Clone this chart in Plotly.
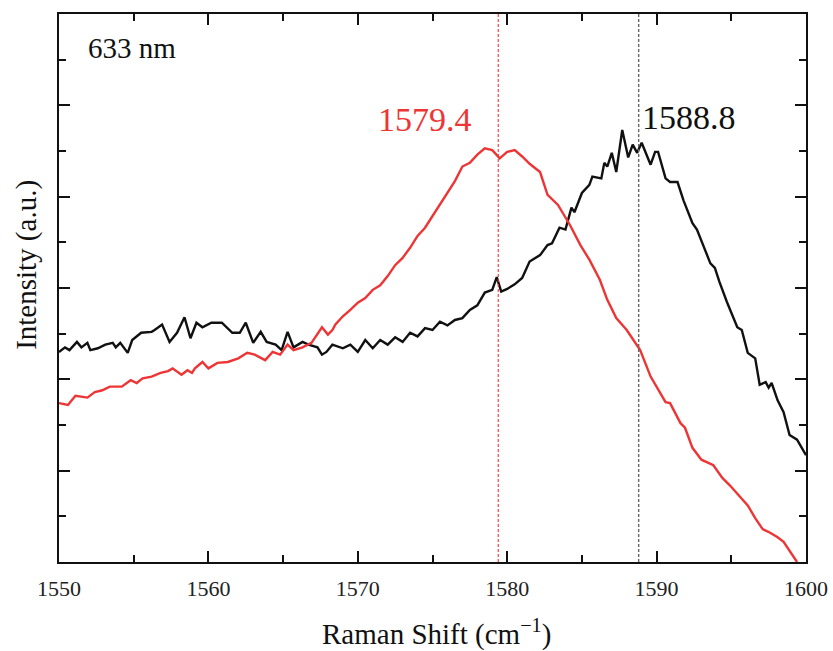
import plotly.graph_objects as go

red_x = [1550.0, 1550.6, 1551.1, 1551.9, 1552.4, 1552.9, 1553.4, 1554.2, 1554.8, 1555.2, 1555.6,
         1556.2, 1556.8, 1557.3, 1557.6, 1558.2, 1558.6, 1558.9, 1559.1, 1559.6, 1560.0, 1560.6,
         1561.3, 1562.0, 1562.6, 1563.1, 1563.8, 1564.3, 1564.8, 1565.3, 1565.7, 1566.3, 1566.9,
         1567.6, 1568.0, 1568.3, 1568.5, 1569.0, 1569.5, 1570.0, 1570.5, 1571.0, 1571.5, 1572.0,
         1572.5, 1573.0, 1573.5, 1574.0, 1574.5, 1575.0, 1575.5, 1576.0, 1576.5, 1577.0, 1577.5,
         1578.0, 1578.5, 1579.0, 1579.5, 1580.0, 1580.5, 1581.0, 1581.5, 1582.2, 1582.7, 1583.4,
         1584.2, 1584.9, 1585.5, 1586.2, 1586.7, 1587.3, 1588.0, 1588.9, 1589.6, 1590.6, 1590.9,
         1591.6, 1591.9, 1592.4, 1593.0, 1593.8, 1594.4, 1594.9, 1595.6, 1596.1, 1596.6, 1597.1,
         1597.6, 1598.1, 1598.5, 1598.8, 1599.4]
red_y = [174, 172, 182, 180, 186, 188, 192, 192, 199, 196, 201,
         203, 207, 209, 212, 205, 210, 207, 212, 219, 212, 218,
         219, 223, 229, 227, 221, 230, 227, 238, 232, 235, 240,
         257, 249, 254, 260, 269, 276, 284, 289, 298, 303, 313,
         325, 333, 344, 357, 366, 379, 391, 404, 417, 433, 437,
         446, 453, 451, 442, 449, 451, 444, 436, 427, 402, 391,
         369, 347, 331, 309, 287, 267, 254, 232, 203, 175, 174,
         152, 147, 125, 112, 106, 92, 84, 71, 62, 48, 36,
         32, 27, 22, 15, 0]

black_x = [1550.0, 1550.4, 1550.7, 1551.2, 1551.5, 1551.9, 1552.1, 1552.6, 1553.1, 1553.6, 1553.8,
           1554.1, 1554.6, 1554.9, 1555.5, 1556.2, 1556.4, 1556.9, 1557.4, 1557.9, 1558.4, 1558.8,
           1559.2, 1559.6, 1560.2, 1560.9, 1561.6, 1562.1, 1562.5, 1563.0, 1563.5, 1563.9, 1564.5,
           1564.9, 1565.3, 1565.7, 1566.3, 1566.7, 1567.3, 1567.6, 1567.9, 1568.3, 1569.0, 1569.5,
           1570.0, 1570.5, 1571.0, 1571.5, 1572.0, 1572.5, 1573.0, 1573.5, 1574.0, 1574.5, 1575.0,
           1575.5, 1576.0, 1576.5, 1577.0, 1577.5, 1578.0, 1578.5, 1579.0, 1579.3, 1579.6, 1580.0,
           1580.5, 1581.0, 1581.5, 1582.2, 1582.7, 1583.0, 1583.5, 1583.9, 1584.3, 1584.5, 1585.0,
           1585.5, 1585.7, 1586.3, 1586.5, 1586.7, 1587.0, 1587.3, 1587.7, 1588.1, 1588.4, 1588.7,
           1589.0, 1589.6, 1589.9, 1590.1, 1590.6, 1590.9, 1591.4, 1591.8, 1592.4, 1592.7, 1593.6,
           1593.9, 1594.2, 1594.7, 1595.4, 1595.7, 1596.1, 1596.6, 1596.9, 1597.3, 1597.5, 1597.7,
           1598.1, 1598.5, 1598.9, 1599.4, 1600.0]
black_y = [230, 235, 232, 241, 235, 240, 232, 234, 238, 240, 235,
           240, 229, 243, 251, 252, 254, 260, 241, 251, 268, 245,
           262, 257, 262, 262, 251, 251, 262, 240, 252, 241, 238,
           232, 252, 235, 241, 238, 235, 227, 230, 238, 234, 238,
           230, 243, 234, 243, 238, 246, 241, 251, 247, 256, 254,
           263, 259, 265, 267, 276, 281, 295, 298, 312, 296, 299,
           304, 311, 329, 336, 347, 349, 366, 364, 388, 383, 404,
           413, 422, 420, 437, 433, 448, 427, 473, 443, 457, 448,
           459, 435, 449, 449, 420, 416, 416, 396, 371, 364, 327,
           322, 307, 285, 257, 254, 229, 223, 194, 197, 191, 196,
           177, 164, 139, 134, 117]

peak_positions = [1579.4, 1588.8]
peak_labels = ["1579.4", "1588.8"]
laser_label = "633 nm"

RED = "#ee3535"
BLACK = "#111111"
FONT = "Liberation Serif, Times New Roman, serif"

fig = go.Figure()
fig.add_trace(go.Scatter(x=black_x, y=black_y, mode="lines",
                         line=dict(color=BLACK, width=2.4), showlegend=False))
fig.add_trace(go.Scatter(x=red_x, y=red_y, mode="lines",
                         line=dict(color=RED, width=2.4), showlegend=False))

fig.add_shape(type="line", xref="x", yref="paper", x0=peak_positions[0], x1=peak_positions[0],
              y0=0, y1=1, line=dict(color=RED, width=1.1, dash="3px,2px"))
fig.add_shape(type="line", xref="x", yref="paper", x0=peak_positions[1], x1=peak_positions[1],
              y0=0, y1=1, line=dict(color="#666666", width=1.4, dash="3px,2px"))

fig.add_annotation(x=peak_positions[0] - 1.6, y=484, text=peak_labels[0], showarrow=False,
                   xanchor="right", yanchor="middle", font=dict(family=FONT, size=34, color=RED))
fig.add_annotation(x=peak_positions[1] + 0.1, y=487, text=peak_labels[1], showarrow=False,
                   xanchor="left", yanchor="middle", font=dict(family=FONT, size=34, color=BLACK))
fig.add_annotation(x=1551.8, y=563, text=laser_label, showarrow=False,
                   xanchor="left", yanchor="middle", font=dict(family=FONT, size=29, color=BLACK))

fig.add_annotation(xref="paper", yref="paper", x=0.505, y=-0.128, text="Raman Shift (cm<sup>−1</sup>)",
                   showarrow=False, xanchor="center", yanchor="middle",
                   font=dict(family=FONT, size=29, color=BLACK))
fig.add_annotation(xref="paper", yref="paper", x=-0.043, y=0.542, text="Intensity (a.u.)",
                   showarrow=False, textangle=-90, xanchor="center", yanchor="middle",
                   font=dict(family=FONT, size=29, color=BLACK))

axis_common = dict(showline=True, linecolor=BLACK, linewidth=2, mirror="allticks",
                   ticks="inside", ticklen=11, tickwidth=1.8, tickcolor=BLACK,
                   showgrid=False, zeroline=False, automargin=False)

fig.update_xaxes(range=[1550, 1600], dtick=10, tick0=1550,
                 minor=dict(dtick=5, ticks="inside", ticklen=7, tickwidth=1.8, tickcolor=BLACK),
                 tickfont=dict(family=FONT, size=22, color="#222222"), ticklabelstandoff=6,
                 **axis_common)
fig.update_yaxes(range=[0, 600], dtick=100, tick0=0, showticklabels=False,
                 minor=dict(dtick=50, ticks="inside", ticklen=7, tickwidth=1.8, tickcolor=BLACK),
                 **axis_common)

fig.update_layout(width=833, height=651, margin=dict(l=59, r=27, t=14, b=89),
                  plot_bgcolor="white", paper_bgcolor="white",
                  font=dict(family=FONT, color=BLACK))

fig.write_html("out.html")
